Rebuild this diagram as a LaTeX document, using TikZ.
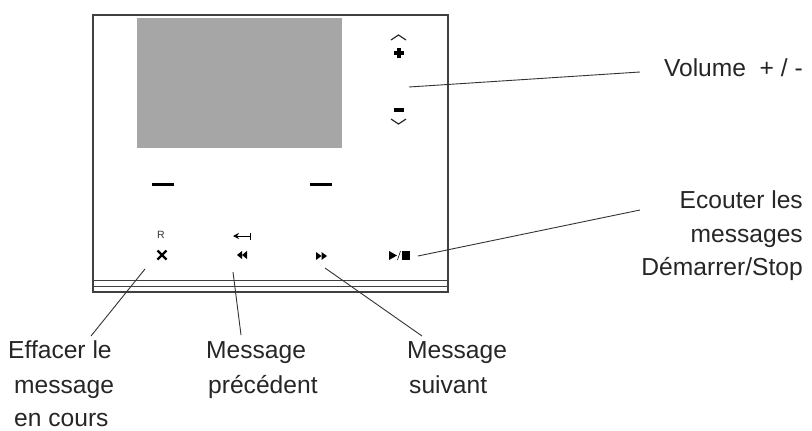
\documentclass[tikz,border=0pt]{standalone}
\usepackage{fontspec}
\setmainfont{Liberation Sans}
\usetikzlibrary{arrows.meta}
\tikzset{
  /tikz/.cd,
  legend/.style={font=\fontsize{24.6}{30}\selectfont,text=black!85,inner sep=0pt},
  leader/.style={draw=black!80,line width=0.9pt},
  casing/.style={draw=black!75,line width=1.4pt},
  glyph/.style={fill=black,draw=none}
}

\begin{document}
\begin{tikzpicture}[x=1pt,y=-1pt,
                    key/.style={font=\fontsize{10.5}{11}\selectfont,text=black!80,inner sep=0pt}]
      \useasboundingbox (0,0) rectangle (812,431);

      % casing and screen
      \draw[casing] (93,15) rectangle (448,292);
      \draw[black!75,line width=0.9pt] (93,280) -- (448,280);
      \draw[black!75,line width=0.9pt] (93,286) -- (448,286);
      \fill[black!35] (137,18) rectangle (342,148);

      % soft keys
      \fill[glyph] (152,183) rectangle (174,186);
      \fill[glyph] (310,183) rectangle (332,186);

      % volume keys
      \draw[black!85,line width=1.2pt] (391,40) -- (398.5,35) -- (406,40);
      \fill[glyph] (397.2,48) rectangle (400.8,58);
      \fill[glyph] (394,51.2) rectangle (404,54.8);
      \fill[glyph] (394,108) rectangle (404,112);
      \draw[black!85,line width=1.2pt] (391,119) -- (398.5,124) -- (406,119);

      % keys along the bottom
      \node[key] (resetkey) at (161,235) {R};
      \draw[line width=2.4pt] (157.5,250.5) -- (166.5,259.5) (166.5,250.5) -- (157.5,259.5);
      \draw[black,line width=1pt,-{Stealth[length=6pt,width=6pt]}] (250.5,236) -- (233,236);
      \draw[black,line width=1pt] (250.5,232.5) -- (250.5,239.5);
      \fill[glyph] (242,251) -- (242,259) -- (237,255) -- cycle;
      \fill[glyph] (247,251) -- (247,259) -- (242,255) -- cycle;
      \fill[glyph] (316,252) -- (316,260) -- (321.5,256) -- cycle;
      \fill[glyph] (321.5,252) -- (321.5,260) -- (327,256) -- cycle;
      \fill[glyph] (389,251) -- (389,260) -- (397,255.5) -- cycle;
      \draw[line width=0.6pt] (397.5,260) -- (400.5,251);
      \fill[glyph] (402,251) rectangle (410,259.5);

      % legends
      \node[legend,anchor=base east] (volume) at (803,76) {Volume\ \ + / -};
      \node[legend,anchor=base east] (listen) at (803,208) {Ecouter les};
      \node[legend,anchor=base east] (listenb) at (803,242) {messages};
      \node[legend,anchor=base east] (listenc) at (803,275) {Démarrer/Stop};
      \node[legend,anchor=base west] (erase) at (8,358) {Effacer le};
      \node[legend,anchor=base west] (eraseb) at (14,393) {message};
      \node[legend,anchor=base west] (erasec) at (14,426) {en cours};
      \node[legend,anchor=base west] (previous) at (206,358) {Message};
      \node[legend,anchor=base west] (previousb) at (208,393) {précédent};
      \node[legend,anchor=base west] (next) at (407,358) {Message};
      \node[legend,anchor=base west] (nextb) at (409,393) {suivant};

      % leaders
      \coordinate (volumeend) at (409,87);
      \coordinate (volumestart) at (640,72);
      \coordinate (listenend) at (418,256);
      \coordinate (listenstart) at (640,210);
      \coordinate (eraseend) at (145,269);
      \coordinate (erasestart) at (91,336);
      \coordinate (previousend) at (233,272);
      \coordinate (previousstart) at (241,335);
      \coordinate (nextend) at (325,268);
      \coordinate (nextstart) at (422,336);
      \draw[leader] (volumestart) -- (volumeend);
      \draw[leader] (listenstart) -- (listenend);
      \draw[leader] (erasestart) -- (eraseend);
      \draw[leader] (previousstart) -- (previousend);
      \draw[leader] (nextstart) -- (nextend);
\end{tikzpicture}
\end{document}
